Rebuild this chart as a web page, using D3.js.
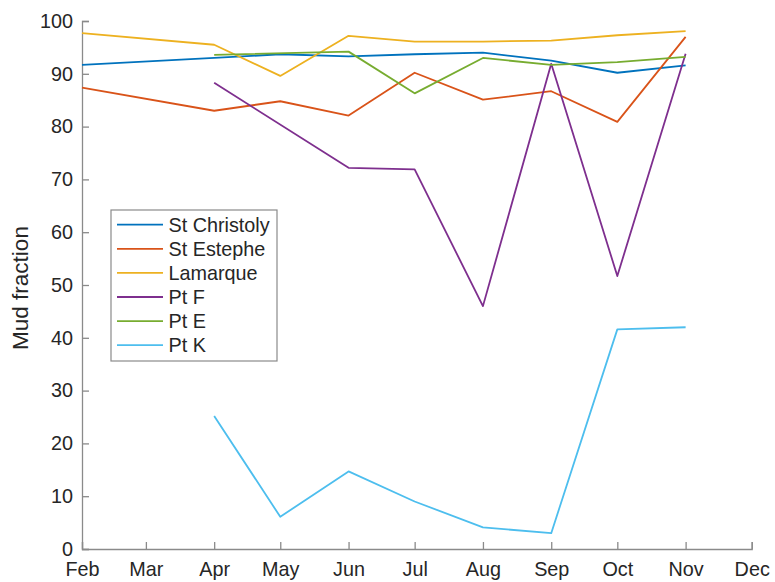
<!DOCTYPE html>
<html>
<head>
<meta charset="utf-8">
<script src="https://cdn.jsdelivr.net/npm/d3@7"></script>
<style>
  html, body { margin: 0; padding: 0; background: #fff; }
  svg { display: block; font-family: "Liberation Sans", Arial, Helvetica, sans-serif; }
</style>
</head>
<body>
<svg id="chart" width="775" height="582"></svg>
<script>
// Sampling months (first of each month, 2016)
const months = ["2016-02-01", "2016-04-01", "2016-05-01", "2016-06-01", "2016-07-01",
                "2016-08-01", "2016-09-01", "2016-10-01", "2016-11-01"];

// Mud fraction (%) per site; null = no sample that month
const stChristoly = [91.7, 93.0, 93.7, 93.3, 93.7, 94.0, 92.5, 90.2, 91.6];
const stEstephe   = [87.4, 83.0, 84.8, 82.1, 90.2, 85.1, 86.7, 80.9, 97.0];
const lamarque    = [97.7, 95.5, 89.6, 97.2, 96.1, 96.1, 96.3, 97.3, 98.1];
const ptF         = [null, 88.3, null, 72.2, 71.9, 46.0, 91.9, 51.7, 93.8];
const ptE         = [null, 93.6, null, 94.2, 86.3, 93.0, 91.7, 92.2, 93.2];
const ptK         = [null, 25.2,  6.1, 14.7,  9.0,  4.1,  3.0, 41.6, 42.0];

const seriesNames = ["St Christoly", "St Estephe", "Lamarque", "Pt F", "Pt E", "Pt K"];
const seriesValues = [stChristoly, stEstephe, lamarque, ptF, ptE, ptK];
const seriesColors = ["#0072BD", "#D95319", "#EDB120", "#7E2F8E", "#77AC30", "#4DBEEE"];

const xTickLabels = ["Feb", "Mar", "Apr", "May", "Jun", "Jul", "Aug", "Sep", "Oct", "Nov", "Dec"];
const yTicks = [0, 10, 20, 30, 40, 50, 60, 70, 80, 90, 100];

const parse = d3.utcParse("%Y-%m-%d");
const dates = months.map(parse);

const svg = d3.select("#chart");
const plotLeft = 82, plotRight = 751.7, plotTop = 21, plotBottom = 549;

const x = d3.scaleUtc()
  .domain([parse("2016-02-01"), parse("2016-12-01")])
  .range([plotLeft, plotRight]);
const y = d3.scaleLinear().domain([0, 100]).range([plotBottom, plotTop]);

const axisColor = "#8a8a8a";
const textColor = "#262626";
const tickFont = 19.8;

// X axis with inward ticks at each month start
const xTickDates = d3.utcMonth.range(parse("2016-02-01"), parse("2016-12-02"));
const xAxis = d3.axisBottom(x)
  .tickValues(xTickDates)
  .tickFormat((d, i) => xTickLabels[i])
  .tickSizeInner(-7)
  .tickSizeOuter(-7)
  .tickPadding(13);

const gx = svg.append("g").attr("transform", `translate(0,${plotBottom})`).call(xAxis);
gx.select(".domain").attr("stroke", axisColor).attr("stroke-width", 1.3);
gx.selectAll(".tick line").attr("stroke", axisColor).attr("stroke-width", 1.3);
gx.selectAll(".tick text")
  .attr("fill", textColor)
  .attr("font-size", tickFont)
  .attr("font-family", "Liberation Sans, Arial, sans-serif");

// Y axis with inward ticks
const yAxis = d3.axisLeft(y)
  .tickValues(yTicks)
  .tickFormat(d3.format("d"))
  .tickSizeInner(-7)
  .tickSizeOuter(-7)
  .tickPadding(9);

const gy = svg.append("g").attr("transform", `translate(${plotLeft},0)`).call(yAxis);
gy.select(".domain").attr("stroke", axisColor).attr("stroke-width", 1.3);
gy.selectAll(".tick line").attr("stroke", axisColor).attr("stroke-width", 1.3);
gy.selectAll(".tick text")
  .attr("fill", textColor)
  .attr("font-size", tickFont)
  .attr("font-family", "Liberation Sans, Arial, sans-serif");

// Y axis title
svg.append("text")
  .attr("transform", "translate(28,288) rotate(-90)")
  .attr("text-anchor", "middle")
  .attr("fill", textColor)
  .attr("font-size", 22.5)
  .text("Mud fraction");

// Series lines (missing months are skipped, line joins neighbouring samples)
const line = d3.line()
  .x(d => x(d.date))
  .y(d => y(d.value));

seriesValues.forEach((vals, i) => {
  const pts = vals.map((v, j) => ({ date: dates[j], value: v })).filter(d => d.value !== null);
  svg.append("path")
    .datum(pts)
    .attr("fill", "none")
    .attr("stroke", seriesColors[i])
    .attr("stroke-width", 1.8)
    .attr("stroke-linejoin", "round")
    .attr("d", line);
});

// Legend
const legend = svg.append("g").attr("transform", "translate(111,210)");
legend.append("rect")
  .attr("x", 0).attr("y", 0)
  .attr("width", 166).attr("height", 151)
  .attr("fill", "#fff")
  .attr("stroke", "#8a8a8a")
  .attr("stroke-width", 1.2);

seriesNames.forEach((name, i) => {
  const yy = 14.7 + i * 24.1;
  legend.append("line")
    .attr("x1", 6).attr("x2", 52)
    .attr("y1", yy).attr("y2", yy)
    .attr("stroke", seriesColors[i])
    .attr("stroke-width", 1.8);
  legend.append("text")
    .attr("x", 57.5).attr("y", yy)
    .attr("dy", "0.36em")
    .attr("fill", textColor)
    .attr("font-size", 19.8)
    .text(name);
});
</script>
</body>
</html>
